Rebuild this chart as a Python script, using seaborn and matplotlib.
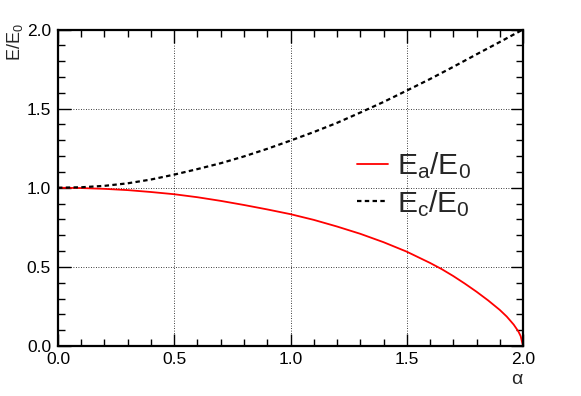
import pandas as pd
import matplotlib
matplotlib.use("Agg")
import matplotlib.pyplot as plt
import seaborn as sns
from matplotlib.ticker import MultipleLocator, FormatStrFormatter

# values
alpha_a = [0.0, 0.1, 0.2, 0.3, 0.4, 0.5, 0.6, 0.7, 0.8, 0.9, 1.0, 1.1, 1.2, 1.3,
           1.4, 1.5, 1.6, 1.65, 1.7, 1.75, 1.8, 1.85, 1.9, 1.93, 1.96, 1.98,
           1.99, 2.0]
ea = [1.000, 0.998, 0.993, 0.985, 0.973, 0.959, 0.940, 0.917, 0.891, 0.863, 0.833,
      0.797, 0.755, 0.709, 0.656, 0.596, 0.525, 0.486, 0.442, 0.394, 0.343, 0.288,
      0.228, 0.186, 0.135, 0.092, 0.062, 0.0]
alpha_c = [0.0, 0.1, 0.2, 0.3, 0.4, 0.5, 0.6, 0.7, 0.8, 0.9, 1.0, 1.1, 1.2, 1.3,
           1.4, 1.5, 1.6, 1.7, 1.8, 1.9, 2.0]
ec = [1.000, 1.003, 1.012, 1.028, 1.052, 1.083, 1.118, 1.155, 1.198, 1.246, 1.298,
      1.352, 1.410, 1.475, 1.542, 1.614, 1.687, 1.764, 1.843, 1.921, 2.0]

sns.set_style("ticks")
plt.rcParams['font.family'] = ['Liberation Sans', 'DejaVu Sans']
plt.rcParams['mathtext.default'] = 'regular'

df_a = pd.DataFrame({'alpha': alpha_a, 'E': ea})
df_c = pd.DataFrame({'alpha': alpha_c, 'E': ec})

fig = plt.figure(figsize=(5.81, 3.96), dpi=100)
ax = fig.add_axes([0.0998, 0.1263, 0.8004, 0.7992])

sns.lineplot(data=df_a, x='alpha', y='E', ax=ax, color='#ff0000', lw=1.3,
             label=r'$\mathregular{E_a/E_0}$')
sns.lineplot(data=df_c, x='alpha', y='E', ax=ax, color='black', lw=1.6,
             linestyle=(0, (2, 1.5)), label=r'$\mathregular{E_c/E_0}$')

ax.set_xlim(0, 2)
ax.set_ylim(0, 2)
ax.xaxis.set_major_locator(MultipleLocator(0.5))
ax.xaxis.set_minor_locator(MultipleLocator(0.1))
ax.yaxis.set_major_locator(MultipleLocator(0.5))
ax.yaxis.set_minor_locator(MultipleLocator(0.1))
ax.xaxis.set_major_formatter(FormatStrFormatter('%.1f'))
ax.yaxis.set_major_formatter(FormatStrFormatter('%.1f'))
ax.tick_params(which='both', direction='in', top=True, right=True, colors='black',
               labelsize=12.5, width=1)
ax.tick_params(which='major', length=9)
ax.tick_params(which='minor', length=5)
ax.tick_params(axis='x', which='major', pad=4.5)
ax.tick_params(axis='y', which='major', pad=5)
for s in ax.spines.values():
    s.set_linewidth(1.6)
    s.set_color('black')
ax.grid(True, which='major', color='black', linestyle=(0, (1, 2)), lw=0.6)

ax.set_xlabel('')
ax.set_ylabel('')
fig.text(0.89, 0.042, r'$\alpha$', fontsize=14, ha='center', va='center')
fig.text(0.008, 0.94, r'$\mathregular{E/E_0}$', fontsize=13, rotation=90,
         ha='left', va='top')

ax.legend(loc='center left', bbox_to_anchor=(0.61, 0.51), frameon=False,
          fontsize=21.5, handlelength=1.05, handletextpad=0.3, labelspacing=0.22,
          borderpad=0)

fig.savefig('out.png', dpi=100)
